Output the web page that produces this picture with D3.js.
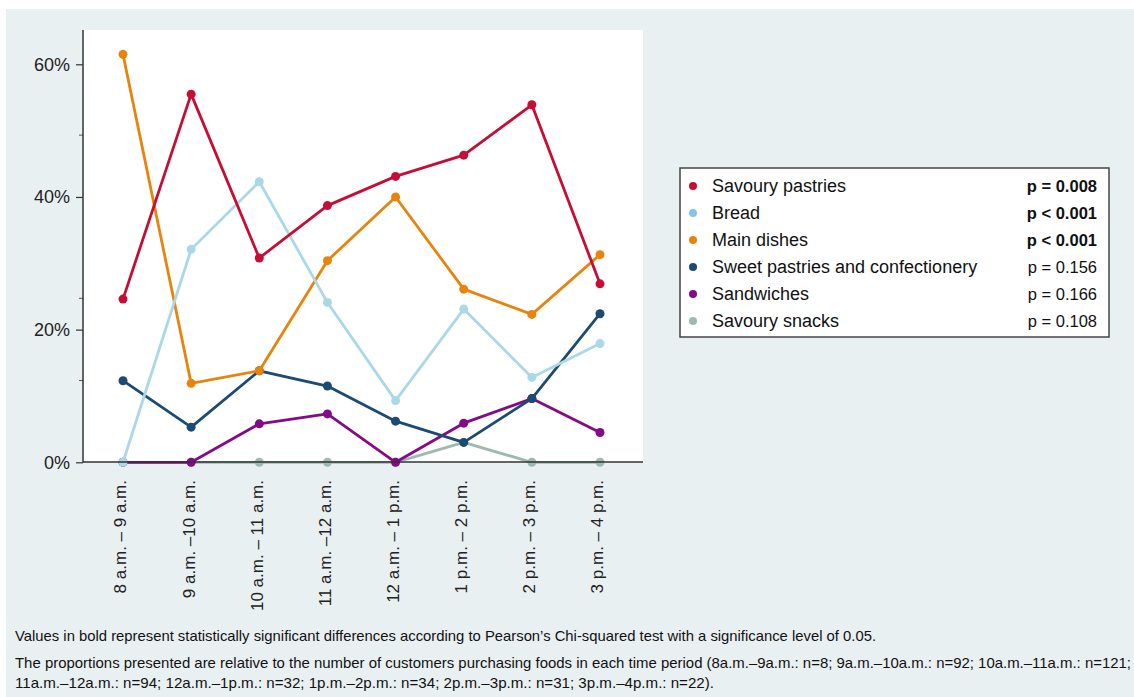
<!DOCTYPE html>
<html>
<head>
<meta charset="utf-8">
<script src="https://cdn.jsdelivr.net/npm/d3@7"></script>
<style>
  html, body { margin: 0; padding: 0; background: #ffffff; }
  svg { display: block; font-family: "Liberation Sans", Arial, sans-serif; }
</style>
</head>
<body>
<svg id="chart" width="1134" height="697"></svg>
<script>
// Time periods on the x axis
const periods = [
  "8 a.m. – 9 a.m.", "9 a.m. –10 a.m.", "10 a.m. – 11 a.m.", "11 a.m. –12 a.m.",
  "12 a.m. – 1 p.m.", "1 p.m. – 2 p.m.", "2 p.m. – 3 p.m.", "3 p.m. – 4 p.m."
];

// Share of customers (%) purchasing each food group per period
const savouryPastries = [24.6, 55.5, 30.8, 38.7, 43.1, 46.3, 53.9, 26.9];
const bread           = [0.0, 32.1, 42.3, 24.1, 9.3, 23.1, 12.8, 17.9];
const mainDishes      = [61.5, 11.9, 13.8, 30.4, 40.0, 26.1, 22.3, 31.3];
const sweetPastries   = [12.3, 5.3, 13.8, 11.5, 6.2, 3.0, 9.6, 22.4];
const sandwiches      = [0.0, 0.0, 5.8, 7.3, 0.0, 5.9, 9.6, 4.5];
const savourySnacks   = [0.0, 0.0, 0.0, 0.0, 0.0, 3.0, 0.0, 0.0];

const seriesNames = ["Savoury pastries", "Bread", "Main dishes",
  "Sweet pastries and confectionery", "Sandwiches", "Savoury snacks"];
const pValues = ["p = 0.008", "p < 0.001", "p < 0.001", "p = 0.156", "p = 0.166", "p = 0.108"];
const significant = [true, true, true, false, false, false];

const yTicks = [0, 20, 40, 60];
const yMinorTicks = [12.4, 24.8, 49.4];

const footnotes = [
  "Values in bold represent statistically significant differences according to Pearson’s Chi-squared test with a significance level of 0.05.",
  "The proportions presented are relative to the number of customers purchasing foods in each time period (8a.m.–9a.m.: n=8; 9a.m.–10a.m.: n=92; 10a.m.–11a.m.: n=121;",
  "11a.m.–12a.m.: n=94; 12a.m.–1p.m.: n=32; 1p.m.–2p.m.: n=34; 2p.m.–3p.m.: n=31; 3p.m.–4p.m.: n=22)."
];

const lineColors = ["#c70d35", "#aad8e6", "#e8830c", "#1b4a73", "#850a87", "#9dbab2"];
const legendColors = ["#c70d35", "#86c3ea", "#e8830c", "#1b4a73", "#850a87", "#9dbab2"];

const seriesValues = [savouryPastries, bread, mainDishes, sweetPastries, sandwiches, savourySnacks];
const series = seriesNames.map((name, i) => ({
  name, values: seriesValues[i], color: lineColors[i], legendColor: legendColors[i],
  p: pValues[i], bold: significant[i]
}));

const svg = d3.select("#chart");

// Panel background
svg.append("rect").attr("x", 6).attr("y", 9).attr("width", 1128).attr("height", 688)
  .attr("fill", "#e9f0f2");

const plot = { left: 83, right: 643, top: 30, bottom: 462 };

svg.append("rect")
  .attr("x", plot.left).attr("y", plot.top)
  .attr("width", plot.right - plot.left).attr("height", plot.bottom - plot.top)
  .attr("fill", "#ffffff");

const x = d3.scalePoint().domain(periods).range([123, 600]);
const y = d3.scaleLinear().domain([0, 60]).range([462.3, 64.3]);

// Y axis
const yAxis = d3.axisLeft(y).tickValues(yTicks).tickFormat(d => d + "%").tickSize(7).tickPadding(6);
const gy = svg.append("g").attr("transform", `translate(${plot.left},0)`).call(yAxis);
gy.select(".domain").remove();
gy.selectAll(".tick line").attr("stroke", "#333").attr("stroke-width", 1.2);
gy.selectAll(".tick text").attr("font-size", 18).attr("fill", "#222")
  .attr("font-family", "Liberation Sans, Arial, sans-serif");

svg.append("g").attr("transform", `translate(${plot.left},0)`)
  .call(d3.axisLeft(y).tickValues(yMinorTicks).tickFormat("").tickSize(4))
  .call(g => g.select(".domain").remove())
  .selectAll(".tick line").attr("stroke", "#555").attr("stroke-width", 1);

svg.append("line").attr("x1", plot.left).attr("x2", plot.left)
  .attr("y1", plot.top).attr("y2", plot.bottom + 0.5)
  .attr("stroke", "#333").attr("stroke-width", 1.5);

// X axis labels, rotated
const gx = svg.append("g").attr("transform", `translate(0,${plot.bottom})`)
  .call(d3.axisBottom(x).tickSize(0).tickPadding(0));
gx.select(".domain").remove();
gx.selectAll(".tick text")
  .attr("transform", "rotate(-90)")
  .attr("x", -18).attr("y", 0).attr("dy", "0.17em")
  .attr("text-anchor", "end")
  .attr("font-size", 17).attr("fill", "#222")
  .attr("font-family", "Liberation Sans, Arial, sans-serif");

// Lines and points, drawn bottom-most series first
const line = d3.line().x((d, i) => x(periods[i])).y(d => y(d));
const drawOrder = series.slice().reverse();
const sg = svg.append("g").selectAll("g").data(drawOrder).join("g");
sg.append("path")
  .attr("d", d => line(d.values))
  .attr("fill", "none").attr("stroke", d => d.color)
  .attr("stroke-width", 2.8).attr("stroke-linejoin", "round");
sg.selectAll("circle").data(d => d.values.map((v, i) => ({ v, i, c: d.color })))
  .join("circle")
  .attr("cx", d => x(periods[d.i])).attr("cy", d => y(d.v))
  .attr("r", 4.5).attr("fill", d => d.c);

// Bottom axis line
svg.append("line").attr("x1", plot.left).attr("x2", plot.right)
  .attr("y1", plot.bottom).attr("y2", plot.bottom)
  .attr("stroke", "#333").attr("stroke-width", 1.5);

// Legend
const lg = svg.append("g");
lg.append("rect").attr("x", 680).attr("y", 168).attr("width", 429).attr("height", 169)
  .attr("fill", "#ffffff").attr("stroke", "#444").attr("stroke-width", 1.5);
const rowY = d3.scaleLinear().domain([0, 5]).range([186, 321]);
const rows = lg.selectAll("g.row").data(series).join("g").attr("class", "row")
  .attr("transform", (d, i) => `translate(0,${rowY(i)})`);
rows.append("circle").attr("cx", 693).attr("cy", 0).attr("r", 4).attr("fill", d => d.legendColor);
rows.append("text").attr("x", 712).attr("dy", "0.35em").attr("font-size", 18)
  .attr("fill", "#111").text(d => d.name);
rows.append("text").attr("x", 1097).attr("dy", "0.35em").attr("text-anchor", "end")
  .attr("font-size", 16.5).attr("fill", "#111")
  .attr("font-weight", d => d.bold ? "bold" : "normal").text(d => d.p);

// Footnotes
const noteY = [641, 668, 688];
const noteW = [861, 1116, 699];
svg.append("g").selectAll("text").data(footnotes).join("text")
  .attr("x", 15).attr("y", (d, i) => noteY[i])
  .attr("font-size", 14.5).attr("fill", "#111")
  .attr("textLength", (d, i) => noteW[i]).attr("lengthAdjust", "spacingAndGlyphs")
  .text(d => d);
</script>
</body>
</html>
